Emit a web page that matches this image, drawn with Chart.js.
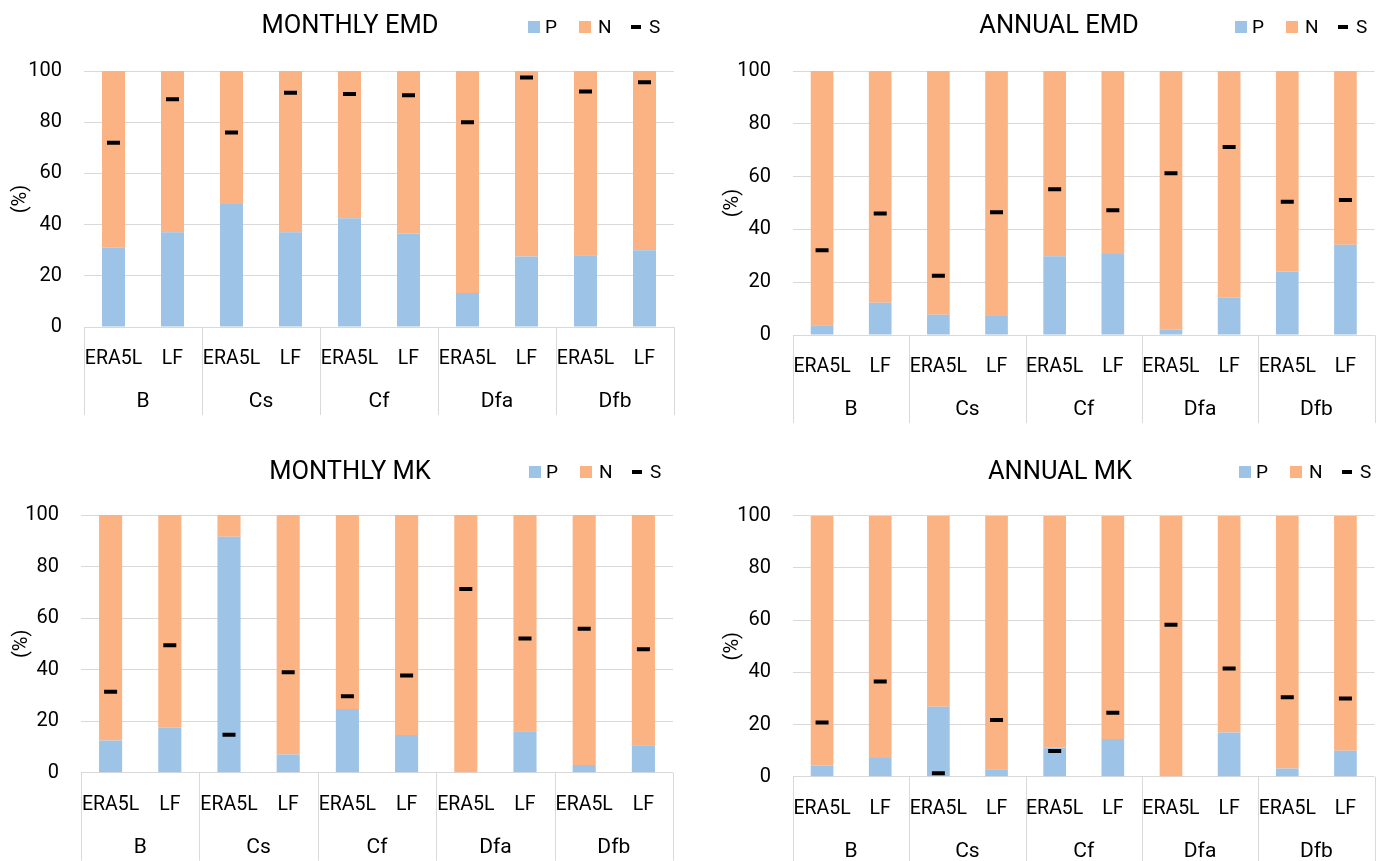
<!DOCTYPE html>
<html><head><meta charset="utf-8">
<script src="https://cdn.jsdelivr.net/npm/chart.js@4"></script>
<style>
html,body{margin:0;padding:0;background:#fff;}
body{width:1385px;height:861px;position:relative;overflow:hidden;}
canvas{position:absolute;}
</style></head><body>
<canvas id="c1" width="692" height="430" style="left:0;top:0"></canvas>
<canvas id="c2" width="693" height="430" style="left:692px;top:0"></canvas>
<canvas id="c3" width="692" height="431" style="left:0;top:430px"></canvas>
<canvas id="c4" width="693" height="431" style="left:692px;top:430px"></canvas>
<script>
// ---- data ----
const categories = ['ERA5L','LF','ERA5L','LF','ERA5L','LF','ERA5L','LF','ERA5L','LF'];
const groups = ['B','Cs','Cf','Dfa','Dfb'];
const seriesNames = ['P','N','S'];
const yTicks = [0,20,40,60,80,100];
const yTitle = '(%)';

const monthlyEmdP = [31, 37, 48, 37, 42.5, 36.5, 13.3, 27.5, 28, 30];
const monthlyEmdN = [69, 63, 52, 63, 57.5, 63.5, 86.7, 72.5, 72, 70];
const monthlyEmdS = [72, 89, 76, 91.5, 91, 90.5, 80, 97.5, 92, 95.6];

const annualEmdP = [3.7, 12.2, 7.7, 7.2, 29.8, 30.7, 2.0, 14.1, 24.1, 34.2];
const annualEmdN = [96.3, 87.8, 92.3, 92.8, 70.2, 69.3, 98.0, 85.9, 75.9, 65.8];
const annualEmdS = [32.1, 46.0, 22.4, 46.5, 55.2, 47.3, 61.3, 71.2, 50.5, 51.1];

const monthlyMkP = [12.5, 17.4, 91.6, 7.1, 24.7, 14.6, 0, 16.1, 3.0, 10.7];
const monthlyMkN = [87.5, 82.6, 8.4, 92.9, 75.3, 85.4, 100, 83.9, 97.0, 89.3];
const monthlyMkS = [31.4, 49.5, 14.7, 39.0, 29.7, 37.7, 71.3, 52.1, 55.9, 47.9];

const annualMkP = [4.3, 7.2, 26.8, 2.9, 11.2, 14.4, 0, 16.9, 3.1, 9.9];
const annualMkN = [95.7, 92.8, 73.2, 97.1, 88.8, 85.6, 100, 83.1, 96.9, 90.1];
const annualMkS = [20.8, 36.5, 1.3, 21.7, 9.8, 24.5, 58.2, 41.5, 30.4, 30.0];

// ---- styles / layout ----
const COLOR_P = '#9DC3E6';
const COLOR_N = '#FBB383';
const COLOR_S = '#000000';
const GRID = '#D9D9D9';
const FONT = 'Roboto';

const panels = [
  {id:'c1', title:'MONTHLY EMD', P:monthlyEmdP, N:monthlyEmdN, S:monthlyEmdS,
   yW:84, padR:18, padT:71, xH:103, titleX:350, titleY:26, legX:528, legY:27, yTitlePad:9},
  {id:'c2', title:'ANNUAL EMD', P:annualEmdP, N:annualEmdN, S:annualEmdS,
   yW:101, padR:3, padT:71, xH:95, titleX:367, titleY:26, legX:543, legY:27, yTitlePad:29},
  {id:'c3', title:'MONTHLY MK', P:monthlyMkP, N:monthlyMkN, S:monthlyMkS,
   yW:81, padR:19, padT:85, xH:88.3, titleX:350, titleY:42, legX:529, legY:42, yTitlePad:10},
  {id:'c4', title:'ANNUAL MK', P:annualMkP, N:annualMkN, S:annualMkS,
   yW:101, padR:3, padT:85.7, xH:84.3, titleX:368, titleY:42, legX:547, legY:42, yTitlePad:29}
];

Chart.defaults.font.family = FONT;
Chart.defaults.color = '#000';

const decor = {
  id: 'decor',
  afterDraw(chart, args, o) {
    const ctx = chart.ctx;
    const xs = chart.scales.x, ys = chart.scales.y;
    const y0 = ys.getPixelForValue(0);
    ctx.save();
    // group separators
    ctx.strokeStyle = GRID; ctx.lineWidth = 1;
    for (let g = 0; g <= groups.length; g++) {
      const px = Math.round(xs.getPixelForValue(g * 2 - 0.5)) + 0.5;
      ctx.beginPath(); ctx.moveTo(px, y0); ctx.lineTo(px, y0 + 88); ctx.stroke();
    }
    // group labels
    ctx.fillStyle = '#000';
    ctx.font = '21px ' + FONT;
    ctx.textAlign = 'center'; ctx.textBaseline = 'middle';
    groups.forEach((g, i) => {
      const cx = xs.getPixelForValue(i * 2 + 0.5);
      ctx.fillText(g, cx, y0 + 75);
    });
    // title
    ctx.font = '25.5px ' + FONT;
    ctx.fillText(o.title, o.titleX, o.titleY + 1);
    // legend
    ctx.font = '19px ' + FONT;
    ctx.textAlign = 'left';
    const lx = o.legX, ly = o.legY;
    ctx.fillStyle = COLOR_P; ctx.fillRect(lx, ly - 6, 12, 12);
    ctx.fillStyle = '#000'; ctx.fillText(seriesNames[0], lx + 17, ly + 1);
    ctx.fillStyle = COLOR_N; ctx.fillRect(lx + 51, ly - 6, 12, 12);
    ctx.fillStyle = '#000'; ctx.fillText(seriesNames[1], lx + 70, ly + 1);
    ctx.fillStyle = COLOR_S; ctx.fillRect(lx + 103, ly - 2, 10, 4);
    ctx.fillStyle = '#000'; ctx.fillText(seriesNames[2], lx + 121, ly + 1);
    ctx.restore();
  }
};

panels.forEach(p => {
  new Chart(document.getElementById(p.id), {
    type: 'bar',
    data: {
      labels: categories,
      datasets: [
        {label: seriesNames[0], data: p.P, backgroundColor: COLOR_P, stack: 'bars', order: 2,
         categoryPercentage: 1, barPercentage: 0.39},
        {label: seriesNames[1], data: p.N, backgroundColor: COLOR_N, stack: 'bars', order: 2,
         categoryPercentage: 1, barPercentage: 0.39},
        {label: seriesNames[2], data: p.S, type: 'line', showLine: false, stack: 'marks', order: 0,
         pointStyle: 'line', pointRadius: 6.5, pointHoverRadius: 6.5, borderWidth: 4, pointBorderWidth: 4,
         borderColor: COLOR_S, backgroundColor: COLOR_S}
      ]
    },
    options: {
      responsive: false,
      animation: false,
      layout: {padding: {top: p.padT, right: p.padR, left: 0, bottom: 0}},
      plugins: {
        legend: {display: false},
        title: {display: false},
        tooltip: {enabled: false},
        decor: {title: p.title, titleX: p.titleX, titleY: p.titleY, legX: p.legX, legY: p.legY}
      },
      scales: {
        x: {
          stacked: true,
          grid: {display: false, drawTicks: false},
          border: {display: false},
          ticks: {font: {size: 19.5}, color: '#000', padding: 20.3, maxRotation: 0, autoSkip: false},
          afterFit: s => { s.height = p.xH; }
        },
        y: {
          stacked: true,
          min: 0, max: 100,
          afterBuildTicks: s => { s.ticks = yTicks.map(v => ({value: v})); },
          grid: {color: GRID, drawTicks: false, lineWidth: 1},
          border: {display: false},
          ticks: {font: {size: 20}, color: '#000', padding: 22},
          title: {display: true, text: yTitle, font: {size: 20}, color: '#000', padding: {top: p.yTitlePad, bottom: 0}},
          afterFit: s => { s.width = p.yW; }
        }
      }
    },
    plugins: [decor]
  });
});
</script>
</body></html>
